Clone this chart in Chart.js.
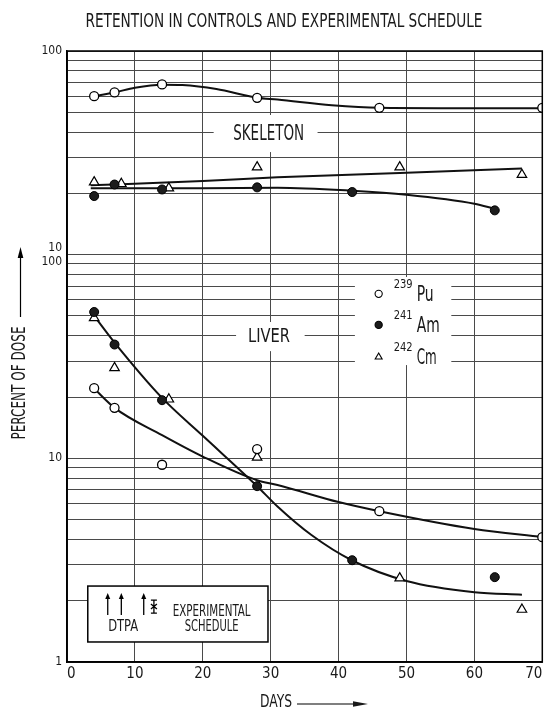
<!DOCTYPE html>
<html>
<head>
<meta charset="utf-8">
<script src="https://cdn.jsdelivr.net/npm/chart.js@4.4.0/dist/chart.umd.min.js"></script>
<style>
  html, body { margin: 0; padding: 0; background: #fff; }
</style>
</head>
<body>
<canvas id="chart" width="549" height="714"></canvas>
<script>
// measured points, days after injection / percent of dose
const skeletonPuDays = [4, 7, 14, 28, 46, 70];
const skeletonPu     = [60, 62.6, 68.5, 58.9, 52.6, 52.6];
const skeletonAmDays = [4, 7, 14, 28, 42, 63];
const skeletonAm     = [19.4, 22.1, 20.9, 21.4, 20.3, 16.5];
const skeletonCmDays = [4, 8, 15, 28, 49, 67];
const skeletonCm     = [22.7, 22.3, 21.2, 26.9, 26.9, 24.7];

const liverPuDays = [4, 7, 14, 28, 46, 70];
const liverPu     = [22.1, 17.7, 9.3, 11.1, 5.5, 4.1];
const liverAmDays = [4, 7, 14, 28, 42, 63];
const liverAm     = [52.3, 36.2, 19.3, 7.3, 3.16, 2.61];
const liverCmDays = [4, 7, 15, 28, 49, 67];
const liverCm     = [48.9, 27.8, 19.5, 10.1, 2.58, 1.81];

// hand drawn curves
const skeletonPuFitDays = [4, 7, 10, 14, 17, 22, 28, 31, 39, 46, 55, 70];
const skeletonPuFit     = [60, 62.6, 66, 68.3, 68, 65, 59, 57.8, 54.2, 52.6, 52.4, 52.4];
const skeletonCmFitDays = [3.5, 20, 31, 49, 67];
const skeletonCmFit     = [21.9, 23, 24, 25.2, 26.5];
const skeletonAmFitDays = [3.5, 20, 31, 42, 50, 60, 63];
const skeletonAmFit     = [21.2, 21.2, 21.3, 20.6, 19.7, 17.8, 16.8];
const liverAmFitDays = [4, 7, 14, 20, 28, 31, 36, 42, 50, 60, 67];
const liverAmFit     = [50, 37, 19.8, 12.9, 7.3, 5.8, 4.2, 3.15, 2.5, 2.2, 2.14];
const liverPuFitDays = [4, 7, 14, 20, 28, 31, 40, 46, 60, 70];
const liverPuFit     = [22, 17.7, 13, 10.2, 7.8, 7.4, 6.1, 5.5, 4.5, 4.1];

// DTPA injections and the sampling mark in the schedule inset
const dtpaDays = [6, 8, 11.3];
const sampleDay = 12.8;

// y axis: skeleton panel (10-100) stacked one decade above liver panel (1-100)
const SKELETON_SHIFT = 10;
const yLabelValues = [1, 10, 100, 1000];
const yLabelText   = ['1', '10', ['10', '100'], '100'];
const yGridValues = [];
[1, 10, 100].forEach(d => { for (let m = 1; m < 10; m++) yGridValues.push(d * m); });
yGridValues.push(1000);

const ink = '#1a1a1a';
const gridInk = '#4a4a4a';
const FONT = '"Liberation Sans Narrow", "DejaVu Sans Condensed", "Roboto Condensed", "Liberation Sans", Arial, sans-serif';

const pts = (xs, ys, k = 1) => xs.map((x, i) => ({ x: x, y: ys[i] * k }));

const openCircle = { pointStyle: 'circle', pointRadius: 4.5, pointBackgroundColor: '#fff', pointBorderColor: '#000', pointBorderWidth: 1.3 };
const fullCircle = { pointStyle: 'circle', pointRadius: 4.5, pointBackgroundColor: '#1c1c1c', pointBorderColor: '#000', pointBorderWidth: 1 };
const triangle   = { pointStyle: 'triangle', pointRadius: 5.5, pointBackgroundColor: '#fff', pointBorderColor: '#000', pointBorderWidth: 1.2 };

function markers(label, data, style) {
  return Object.assign({ label: label, data: data, showLine: false, order: 0 }, style);
}
function curve(label, data) {
  return { label: label, data: data, showLine: true, borderColor: '#111', borderWidth: 2,
           pointRadius: 0, cubicInterpolationMode: 'monotone', order: 1 };
}

function text(ctx, str, x, y, size, maxW, align) {
  ctx.font = size + 'px ' + FONT;
  ctx.textAlign = align || 'center';
  ctx.textBaseline = 'middle';
  ctx.fillStyle = ink;
  ctx.fillText(str, x, y, maxW);
}

function rectFor(chart, d0, d1, v0, v1) {
  const xs = chart.scales.x, ys = chart.scales.y;
  const x0 = xs.getPixelForValue(d0), x1 = xs.getPixelForValue(d1);
  const y0 = ys.getPixelForValue(v0), y1 = ys.getPixelForValue(v1);
  return { x: x0, y: y0, w: x1 - x0, h: y1 - y0 };
}

function arrowUp(ctx, x, yTop, yBot, head, half) {
  ctx.beginPath(); ctx.moveTo(x, yBot); ctx.lineTo(x, yTop + head - 1); ctx.stroke();
  ctx.beginPath(); ctx.moveTo(x, yTop); ctx.lineTo(x - half, yTop + head); ctx.lineTo(x + half, yTop + head); ctx.closePath(); ctx.fill();
}

const annotate = {
  id: 'annotate',
  beforeDraw(chart) {
    const ctx = chart.ctx;
    ctx.save(); ctx.fillStyle = '#fff'; ctx.fillRect(0, 0, chart.width, chart.height); ctx.restore();
  },
  beforeDatasetsDraw(chart) {
    const ctx = chart.ctx;
    ctx.save();
    ctx.fillStyle = '#fff';
    // label / legend knock-outs over the grid
    [rectFor(chart, 21.6, 36.9, 485, 319),   // SKELETON
     rectFor(chart, 24.9, 35.0, 46.7, 33.6), // LIVER
     rectFor(chart, 42.4, 56.6, 77.7, 28.7)  // legend
    ].forEach(r => ctx.fillRect(r.x, r.y, r.w, r.h));
    // schedule inset
    const b = rectFor(chart, 3.06, 29.6, 2.36, 1.254);
    ctx.fillRect(b.x, b.y, b.w, b.h);
    ctx.strokeStyle = '#000'; ctx.lineWidth = 1.5;
    ctx.strokeRect(b.x, b.y, b.w, b.h);
    ctx.restore();
  },
  afterDatasetsDraw(chart) {
    const ctx = chart.ctx, xs = chart.scales.x, ys = chart.scales.y;
    const a = chart.chartArea;
    ctx.save();
    // frame
    ctx.strokeStyle = '#000'; ctx.lineWidth = 1.5;
    ctx.strokeRect(a.left, a.top, a.right - a.left, a.bottom - a.top);

    // panel labels
    text(ctx, 'SKELETON', xs.getPixelForValue(29.7), ys.getPixelForValue(387), 21, 71);
    text(ctx, 'LIVER', xs.getPixelForValue(29.75), ys.getPixelForValue(39.4), 20, 42);

    // legend
    const lx = xs.getPixelForValue(45.9);
    const items = [
      { v: 64.2, sup: '239', name: 'Pu', style: openCircle, w: 17 },
      { v: 45.2, sup: '241', name: 'Am', style: fullCircle, w: 23 },
      { v: 31.45, sup: '242', name: 'Cm', style: triangle, w: 20 }
    ];
    items.forEach(it => {
      const y = ys.getPixelForValue(it.v);
      ctx.fillStyle = it.style.pointBackgroundColor;
      ctx.strokeStyle = '#000';
      ctx.lineWidth = 1.1;
      Chart.helpers.drawPoint(ctx, { pointStyle: it.style.pointStyle,
        radius: it.style.pointStyle === 'triangle' ? 4 : 3.6, borderWidth: 1.1, rotation: 0 }, lx, y);
      text(ctx, it.sup, lx + 15, y - 9, 13, 19, 'left');
      text(ctx, it.name, lx + 38, y + 2, 21, it.w, 'left');
    });

    // schedule inset contents
    const b = rectFor(chart, 3.06, 29.6, 2.36, 1.254);
    ctx.strokeStyle = '#000'; ctx.fillStyle = '#000'; ctx.lineWidth = 1.3;
    dtpaDays.forEach(d => arrowUp(ctx, xs.getPixelForValue(d), b.y + 7, b.y + 29, 6, 2.5));
    const sx = xs.getPixelForValue(sampleDay);
    ctx.beginPath();
    ctx.moveTo(sx, b.y + 14); ctx.lineTo(sx, b.y + 27);
    ctx.moveTo(sx - 3, b.y + 14); ctx.lineTo(sx + 3, b.y + 14);
    ctx.moveTo(sx - 3, b.y + 27); ctx.lineTo(sx + 3, b.y + 27);
    ctx.moveTo(sx - 3, b.y + 18); ctx.lineTo(sx + 3, b.y + 23);
    ctx.moveTo(sx + 3, b.y + 18); ctx.lineTo(sx - 3, b.y + 23);
    ctx.stroke();
    text(ctx, 'DTPA', xs.getPixelForValue(8.27), b.y + 41, 16, 30);
    text(ctx, 'EXPERIMENTAL', xs.getPixelForValue(21.3), b.y + 26, 16, 78);
    text(ctx, 'SCHEDULE', xs.getPixelForValue(21.3), b.y + 41, 16, 54);
    ctx.restore();
  },
  afterDraw(chart) {
    const ctx = chart.ctx;
    ctx.save();
    text(ctx, 'RETENTION IN CONTROLS AND EXPERIMENTAL SCHEDULE', 284, 22, 20, 397);

    // y axis title with arrow
    ctx.save();
    ctx.translate(20, 383);
    ctx.rotate(-Math.PI / 2);
    text(ctx, 'PERCENT OF DOSE', 0, 0, 19, 113);
    ctx.restore();
    ctx.strokeStyle = '#000'; ctx.fillStyle = '#000'; ctx.lineWidth = 1.2;
    arrowUp(ctx, 20.5, 247, 317, 11, 2.8);

    // x axis title with arrow
    text(ctx, 'DAYS', 260, 702, 18, 32, 'left');
    ctx.beginPath(); ctx.moveTo(297, 704); ctx.lineTo(355, 704); ctx.stroke();
    ctx.beginPath(); ctx.moveTo(368, 704); ctx.lineTo(353, 701.3); ctx.lineTo(353, 706.7); ctx.closePath(); ctx.fill();
    ctx.restore();
  }
};

new Chart(document.getElementById('chart'), {
  type: 'scatter',
  data: {
    datasets: [
      markers('239Pu skeleton', pts(skeletonPuDays, skeletonPu, SKELETON_SHIFT), openCircle),
      markers('241Am skeleton', pts(skeletonAmDays, skeletonAm, SKELETON_SHIFT), fullCircle),
      markers('242Cm skeleton', pts(skeletonCmDays, skeletonCm, SKELETON_SHIFT), triangle),
      markers('239Pu liver', pts(liverPuDays, liverPu), openCircle),
      markers('241Am liver', pts(liverAmDays, liverAm), fullCircle),
      markers('242Cm liver', pts(liverCmDays, liverCm), triangle),
      curve('Pu skeleton fit', pts(skeletonPuFitDays, skeletonPuFit, SKELETON_SHIFT)),
      curve('Cm skeleton fit', pts(skeletonCmFitDays, skeletonCmFit, SKELETON_SHIFT)),
      curve('Am skeleton fit', pts(skeletonAmFitDays, skeletonAmFit, SKELETON_SHIFT)),
      curve('Am/Cm liver fit', pts(liverAmFitDays, liverAmFit)),
      curve('Pu liver fit', pts(liverPuFitDays, liverPuFit))
    ]
  },
  options: {
    responsive: false,
    animation: false,
    events: [],
    layout: { padding: { top: 51, right: 2, bottom: 0, left: 0 } },
    plugins: {
      legend: { display: false },
      title: { display: false },
      tooltip: { enabled: false }
    },
    scales: {
      x: {
        type: 'linear', min: 0, max: 70,
        afterFit: s => { s.height = 52; s.paddingLeft = 0; s.paddingRight = 0; },
        ticks: { stepSize: 10, align: 'inner', padding: 3, maxRotation: 0, color: ink,
                 font: { family: FONT, size: 15 } },
        grid: { color: gridInk, lineWidth: 1, drawTicks: false },
        border: { color: '#000', width: 1.5 }
      },
      y: {
        type: 'logarithmic', min: 1, max: 1000,
        afterBuildTicks: s => { s.ticks = yGridValues.map(v => ({ value: v })); },
        afterFit: s => { s.width = 67; s.paddingTop = 0; s.paddingBottom = 0; },
        ticks: {
          autoSkip: false, padding: 5, color: ink,
          font: { family: FONT, size: 12, lineHeight: 1.2 },
          callback: v => { const i = yLabelValues.indexOf(v); return i < 0 ? '' : yLabelText[i]; }
        },
        grid: { color: gridInk, lineWidth: 1, drawTicks: false },
        border: { color: '#000', width: 1.5 }
      }
    }
  },
  plugins: [annotate]
});
</script>
</body>
</html>
